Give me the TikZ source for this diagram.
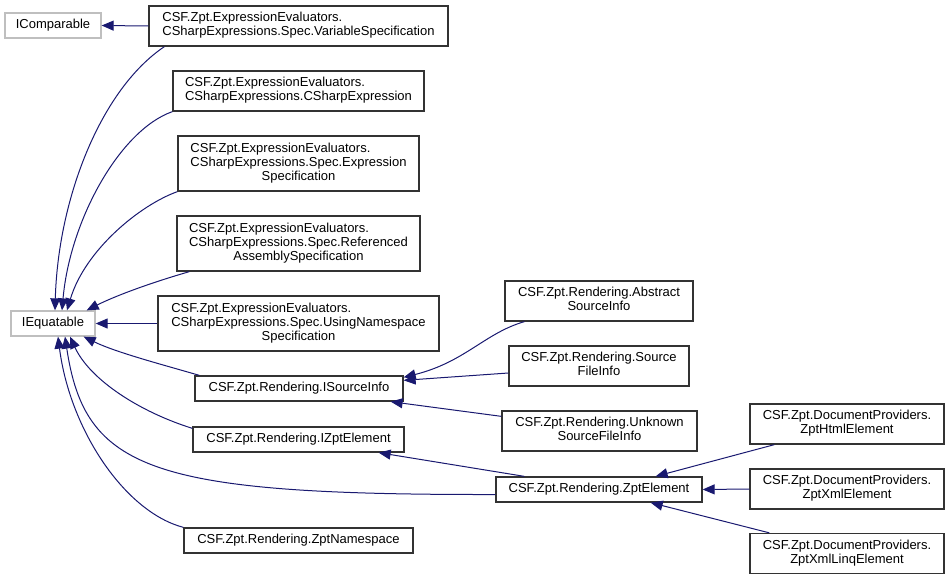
\documentclass[tikz,border=0pt]{standalone}
\usepackage{fontspec}
\setmainfont{Liberation Sans}
\usepackage{xcolor}
\usepackage{tikz}
\usetikzlibrary{calc, arrows.meta}
\definecolor{midnightblue}{HTML}{191970}
\definecolor{grey75}{HTML}{BFBFBF}
\tikzset{every node/.append style={font=\fontsize{13}{14}\selectfont}}
\tikzset{
  cls/.style={draw=black!80, line width=1.3pt, fill=white, inner sep=0pt},
  iface/.style={cls, draw=grey75},
  inh/.style={->, draw=midnightblue, line width=1pt}
}
% last line centred, the others flush left
\newcommand{\cname}[2]{\begin{tabular}{@{}l@{}}#1\\\multicolumn{1}{@{}c@{}}{#2}\end{tabular}}

\begin{document}
\begin{tikzpicture}[x=1pt, y=-1pt, >={Triangle[length=12pt, width=10pt]}]
    \useasboundingbox (0,0) rectangle (951,581);
    % base interfaces
    \node[iface, minimum width=96pt, minimum height=25pt] (icomparable) at (53,25.5) {IComparable};
    \node[iface, minimum width=84pt, minimum height=25pt] (iequatable) at (53,323.5) {IEquatable};
    % expression evaluators
    \node[cls, minimum width=299pt, minimum height=40pt] (varspec) at (298.5,26) {\cname{CSF.Zpt.ExpressionEvaluators.}{CSharpExpressions.Spec.VariableSpecification}};
    \node[cls, minimum width=251pt, minimum height=40pt] (csexpr) at (298.5,91) {\cname{CSF.Zpt.ExpressionEvaluators.}{CSharpExpressions.CSharpExpression}};
    \node[cls, minimum width=241pt, minimum height=55pt] (exprspec) at (298.5,163.5) {\cname{CSF.Zpt.ExpressionEvaluators.\\CSharpExpressions.Spec.Expression}{Specification}};
    \node[cls, minimum width=243pt, minimum height=55pt] (refasm) at (298.5,243.5) {\cname{CSF.Zpt.ExpressionEvaluators.\\CSharpExpressions.Spec.Referenced}{AssemblySpecification}};
    \node[cls, minimum width=281pt, minimum height=55pt] (usingns) at (298.5,323.5) {\cname{CSF.Zpt.ExpressionEvaluators.\\CSharpExpressions.Spec.UsingNamespace}{Specification}};
    % rendering
    \node[cls, minimum width=208pt, minimum height=25pt] (isourceinfo) at (299,388.5) {CSF.Zpt.Rendering.ISourceInfo};
    \node[cls, minimum width=211pt, minimum height=25pt] (izptelement) at (298.5,439.5) {CSF.Zpt.Rendering.IZptElement};
    \node[cls, minimum width=229pt, minimum height=25pt] (zptnamespace) at (298.5,540.5) {CSF.Zpt.Rendering.ZptNamespace};
    \node[cls, minimum width=188pt, minimum height=40pt] (abstractsi) at (599,301) {\cname{CSF.Zpt.Rendering.Abstract}{SourceInfo}};
    \node[cls, minimum width=180pt, minimum height=40pt] (sourcefi) at (599,366) {\cname{CSF.Zpt.Rendering.Source}{FileInfo}};
    \node[cls, minimum width=195pt, minimum height=40pt] (unknownsfi) at (599.5,431) {\cname{CSF.Zpt.Rendering.Unknown}{SourceFileInfo}};
    \node[cls, minimum width=206pt, minimum height=25pt] (zptelement) at (599,489.5) {CSF.Zpt.Rendering.ZptElement};
    % document providers
    \node[cls, minimum width=194pt, minimum height=40pt] (zpthtml) at (847,424) {\cname{CSF.Zpt.DocumentProviders.}{ZptHtmlElement}};
    \node[cls, minimum width=194pt, minimum height=40pt] (zptxml) at (847,489) {\cname{CSF.Zpt.DocumentProviders.}{ZptXmlElement}};
    \node[cls, minimum width=194pt, minimum height=40pt] (zptlinq) at (847,553.5) {\cname{CSF.Zpt.DocumentProviders.}{ZptXmlLinqElement}};
    % inheritance into IComparable / IEquatable
    \draw[inh] (varspec.west) -- (icomparable.east);
    \draw[inh] ($(varspec.south west)+(16,0)$) .. controls (100,90) and (58,200) .. ($(iequatable.north)+(2,0)$);
    \draw[inh] (csexpr.south west) .. controls (120,130) and (70,220) .. ($(iequatable.north)+(9,0)$);
    \draw[inh] (exprspec.south west) .. controls (140,205) and (85,250) .. ($(iequatable.north)+(14,0)$);
    \draw[inh] ($(refasm.south west)+(13,0)$) .. controls (150,283) and (115,296) .. ($(iequatable.north east)+(-9,0)$);
    \draw[inh] (usingns.west) -- (iequatable.east);
    \draw[inh] ($(isourceinfo.north west)+(5,0)$) .. controls (160,364) and (115,352) .. ($(iequatable.south east)+(-12,0)$);
    \draw[inh] ($(izptelement.north west)+(0,2)$) .. controls (140,412) and (90,380) .. ($(iequatable.south)+(17,0)$);
    \draw[inh] ($(zptelement.west)+(0,5)$) .. controls (150,495) and (85,470) .. ($(iequatable.south)+(12,0)$);
    \draw[inh] (zptnamespace.north west) .. controls (125,512) and (70,430) .. ($(iequatable.south)+(5,0)$);
    % rendering hierarchy
    \draw[inh] ($(abstractsi.south west)+(20,0)$) .. controls (485,333) and (465,362) .. ($(isourceinfo.north east)+(0,2)$);
    \draw[inh] ($(sourcefi.west)+(0,7)$) -- ($(isourceinfo.north east)+(0,5)$);
    \draw[inh] ($(unknownsfi.north west)+(0,6)$) -- ($(isourceinfo.south east)+(-13,0)$);
    \draw[inh] ($(zptelement.north west)+(29,0)$) -- ($(izptelement.south east)+(-26,0)$);
    \draw[inh] ($(zpthtml.south west)+(25,0)$) -- ($(zptelement.north east)+(-47,0)$);
    \draw[inh] (zptxml.west) -- (zptelement.east);
    \draw[inh] ($(zptlinq.north west)+(20,0)$) -- ($(zptelement.south east)+(-52,0)$);
\end{tikzpicture}
\end{document}
